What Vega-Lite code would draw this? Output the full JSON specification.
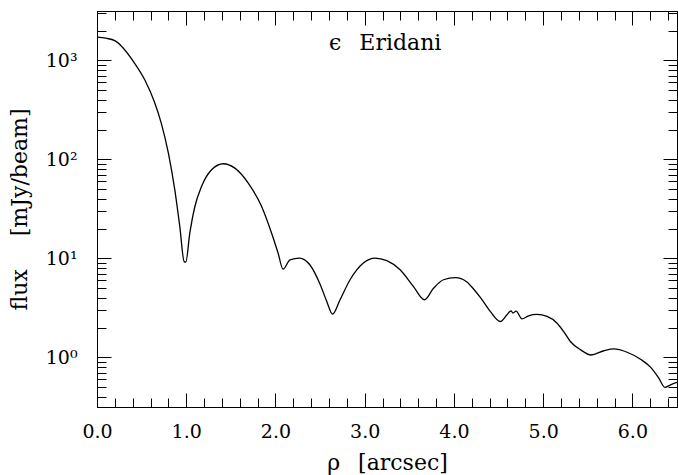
{
  "$schema": "https://vega.github.io/schema/vega-lite/v6.json",
  "autosize": {"type": "none"},
  "width": 580,
  "height": 396,
  "padding": {"left": 97, "top": 11, "right": 1, "bottom": 68},
  "background": "white",
  "config": {
    "view": {"stroke": "black", "strokeWidth": 1},
    "axis": {
      "grid": false,
      "domainColor": "black",
      "domainWidth": 1,
      "tickColor": "black",
      "tickWidth": 1,
      "labelFont": "DejaVu Serif",
      "labelFontSize": 19,
      "labelColor": "black",
      "titleFont": "DejaVu Serif",
      "titleFontSize": 22,
      "titleFontWeight": "normal",
      "titleColor": "black",
      "labelOverlap": false,
      "labelFlush": false
    }
  },
  "data": {
    "values": [
      {"rho": 0.0, "flux": 1720},
      {"rho": 0.1, "flux": 1680},
      {"rho": 0.2, "flux": 1585},
      {"rho": 0.42, "flux": 942},
      {"rho": 0.535, "flux": 638},
      {"rho": 0.648, "flux": 372},
      {"rho": 0.72, "flux": 233},
      {"rho": 0.8, "flux": 116},
      {"rho": 0.872, "flux": 49.4},
      {"rho": 0.928, "flux": 21},
      {"rho": 0.977, "flux": 9.3},
      {"rho": 0.995, "flux": 9.2},
      {"rho": 1.04, "flux": 18},
      {"rho": 1.097, "flux": 33.5},
      {"rho": 1.17, "flux": 53},
      {"rho": 1.284, "flux": 78.8},
      {"rho": 1.415, "flux": 90.6},
      {"rho": 1.545, "flux": 81.8},
      {"rho": 1.695, "flux": 57.8},
      {"rho": 1.845, "flux": 33.5},
      {"rho": 1.957, "flux": 18},
      {"rho": 2.03, "flux": 11.3},
      {"rho": 2.085, "flux": 7.8},
      {"rho": 2.163, "flux": 9.7},
      {"rho": 2.27, "flux": 10.1},
      {"rho": 2.387, "flux": 8.6},
      {"rho": 2.5, "flux": 5.5},
      {"rho": 2.575, "flux": 3.68},
      {"rho": 2.64, "flux": 2.74},
      {"rho": 2.724, "flux": 3.83},
      {"rho": 2.836, "flux": 6.1},
      {"rho": 2.985, "flux": 9.0},
      {"rho": 3.117, "flux": 10.1},
      {"rho": 3.248, "flux": 9.5},
      {"rho": 3.397, "flux": 7.7},
      {"rho": 3.547, "flux": 5.2},
      {"rho": 3.67, "flux": 3.83},
      {"rho": 3.771, "flux": 5.0},
      {"rho": 3.883, "flux": 6.1},
      {"rho": 4.015, "flux": 6.4},
      {"rho": 4.146, "flux": 5.8},
      {"rho": 4.18, "flux": 5.4},
      {"rho": 4.3, "flux": 4.0},
      {"rho": 4.407, "flux": 2.92},
      {"rho": 4.52, "flux": 2.31},
      {"rho": 4.595, "flux": 2.7},
      {"rho": 4.64, "flux": 2.96},
      {"rho": 4.662, "flux": 2.81},
      {"rho": 4.696, "flux": 2.94},
      {"rho": 4.763, "flux": 2.46},
      {"rho": 4.837, "flux": 2.64},
      {"rho": 4.931, "flux": 2.72},
      {"rho": 5.044, "flux": 2.6},
      {"rho": 5.156, "flux": 2.22},
      {"rho": 5.23, "flux": 1.83},
      {"rho": 5.305, "flux": 1.45},
      {"rho": 5.417, "flux": 1.2},
      {"rho": 5.537, "flux": 1.06},
      {"rho": 5.68, "flux": 1.17},
      {"rho": 5.791, "flux": 1.22},
      {"rho": 5.941, "flux": 1.13},
      {"rho": 6.091, "flux": 0.96},
      {"rho": 6.203, "flux": 0.8},
      {"rho": 6.296, "flux": 0.62},
      {"rho": 6.364, "flux": 0.5},
      {"rho": 6.428, "flux": 0.53},
      {"rho": 6.5, "flux": 0.56}
    ]
  },
  "layer": [
    {
      "mark": {"type": "line", "color": "black", "strokeWidth": 1.3, "interpolate": "monotone", "clip": true},
      "encoding": {
        "x": {
          "field": "rho", "type": "quantitative",
          "scale": {"domain": [0, 6.5], "nice": false, "zero": false},
          "axis": {
            "orient": "bottom",
            "title": "ρ\u2002 [arcsec]",
            "titlePadding": 6,
            "values": [0, 0.2, 0.4, 0.6, 0.8, 1, 1.2, 1.4, 1.6, 1.8, 2, 2.2, 2.4, 2.6, 2.8, 3, 3.2, 3.4, 3.6, 3.8, 4, 4.2, 4.4, 4.6, 4.8, 5, 5.2, 5.4, 5.6, 5.8, 6, 6.2, 6.4],
            "labelExpr": "abs(datum.value - round(datum.value)) < 0.01 ? format(datum.value, '.1f') : ''",
            "tickSize": {"condition": {"test": "abs(datum.value - round(datum.value)) < 0.01", "value": -14}, "value": -9},
            "labelPadding": 29
          }
        },
        "y": {
          "field": "flux", "type": "quantitative",
          "scale": {"type": "log", "domain": [0.3162, 3162], "nice": false, "zero": false},
          "axis": {
            "orient": "left",
            "title": "flux\u2003\u2002[mJy/beam]",
            "titlePadding": 14,
            "values": [0.4, 0.5, 0.6, 0.7, 0.8, 0.9, 1, 2, 3, 4, 5, 6, 7, 8, 9, 10, 20, 30, 40, 50, 60, 70, 80, 90, 100, 200, 300, 400, 500, 600, 700, 800, 900, 1000, 2000, 3000],
            "labelExpr": "datum.value == 1 ? '10⁰' : datum.value == 10 ? '10¹' : datum.value == 100 ? '10²' : datum.value == 1000 ? '10³' : ''",
            "tickSize": {"condition": {"test": "indexof([1, 10, 100, 1000], datum.value) >= 0", "value": -14}, "value": -9},
            "labelPadding": 34
          }
        }
      }
    },
    {
      "mark": {"type": "line", "color": "black", "strokeOpacity": 0, "interpolate": "monotone"},
      "encoding": {
        "x": {
          "field": "rho", "type": "quantitative",
          "axis": {
            "orient": "top",
            "title": null,
            "labels": false,
            "values": [0, 0.2, 0.4, 0.6, 0.8, 1, 1.2, 1.4, 1.6, 1.8, 2, 2.2, 2.4, 2.6, 2.8, 3, 3.2, 3.4, 3.6, 3.8, 4, 4.2, 4.4, 4.6, 4.8, 5, 5.2, 5.4, 5.6, 5.8, 6, 6.2, 6.4],
            "tickSize": {"condition": {"test": "abs(datum.value - round(datum.value)) < 0.01", "value": -14}, "value": -9}
          }
        },
        "y": {
          "field": "flux", "type": "quantitative",
          "axis": {
            "orient": "right",
            "title": null,
            "labels": false,
            "values": [0.4, 0.5, 0.6, 0.7, 0.8, 0.9, 1, 2, 3, 4, 5, 6, 7, 8, 9, 10, 20, 30, 40, 50, 60, 70, 80, 90, 100, 200, 300, 400, 500, 600, 700, 800, 900, 1000, 2000, 3000],
            "tickSize": {"condition": {"test": "indexof([1, 10, 100, 1000], datum.value) >= 0", "value": -14}, "value": -9}
          }
        }
      }
    },
    {
      "data": {"values": [{"label": "ϵ\u2002 Eridani"}]},
      "mark": {"type": "text", "font": "DejaVu Serif", "fontSize": 22, "color": "black", "align": "center", "baseline": "middle"},
      "encoding": {
        "x": {"datum": 3.23, "type": "quantitative", "axis": null},
        "y": {"datum": 1490, "type": "quantitative", "axis": null},
        "text": {"field": "label", "type": "nominal"}
      }
    }
  ],
  "resolve": {"axis": {"x": "independent", "y": "independent"}}
}
